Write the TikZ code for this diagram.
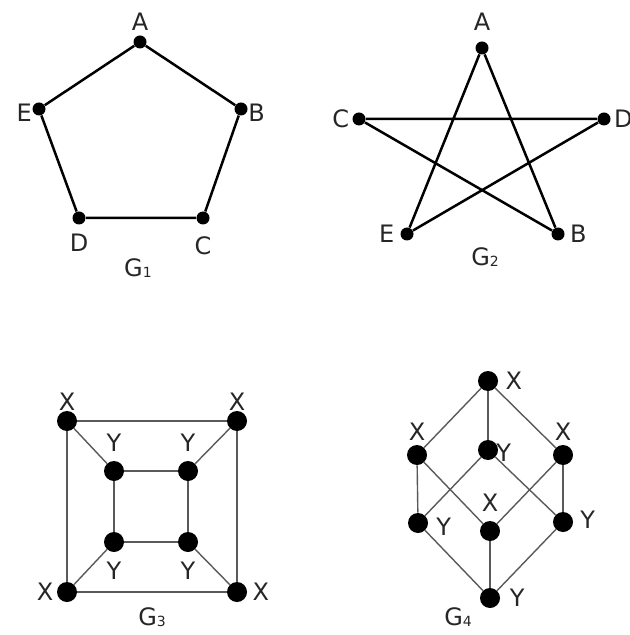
\documentclass[tikz,border=0pt]{standalone}
\usepackage{fontspec}
\setmainfont{DejaVu Sans}
\newcommand\gsub[1]{\raisebox{-0.4pt}{\fontsize{7}{8}\selectfont #1}}

\begin{document}
\begin{tikzpicture}[
      x=0.5pt, y=-0.5pt,
      every label/.style={
        font=\fontsize{12}{14}\selectfont,
        inner sep=0pt,
        text=black!85
      },
      vtx/.style={
        circle,
        fill=black,
        inner sep=0pt,
        minimum size=6.5pt,
        label distance=2.5pt
      },
      bigvtx/.style={
        circle,
        fill=black,
        inner sep=0pt,
        minimum size=10pt,
        label distance=2.5pt
      },
      thickedge/.style={
        line width=1.25pt,
        black
      },
      thinedge/.style={
        line width=0.7pt,
        black!65
      },
      gname/.style={
        font=\fontsize{12}{14}\selectfont,
        inner sep=0pt,
        text=black!85
      }
    ]

    \useasboundingbox (0,0) rectangle (629,635);

    % G1
    \node[vtx,label={[label distance=2.3pt]above:A}] (a1) at (140,42) {};
    \node[vtx,label={[yshift=-2pt]right:B}] (b1) at (241,109) {};
    \node[vtx,label={[label distance=5.8pt]below:C}] (c1) at (203,218) {};
    \node[vtx,label={[label distance=4.3pt]below:D}] (d1) at (79,218) {};
    \node[vtx,label={[yshift=-2pt]left:E}] (e1) at (39,109) {};
    \node[gname] (g1) at (138,268) {G\gsub{1}};

    \draw[thickedge] (a1) -- (b1) -- (c1) -- (d1) -- (e1) -- (a1);

    % G2
    \node[vtx,label={[label distance=5pt]above:A}] (a2) at (482,48) {};
    \node[vtx,label={[label distance=2.4pt]right:B}] (b2) at (558,234) {};
    \node[vtx,label={[label distance=1.3pt]left:C}] (c2) at (359,119) {};
    \node[vtx,label={[label distance=1.4pt]right:D}] (d2) at (604,119) {};
    \node[vtx,label={[label distance=2.7pt]left:E}] (e2) at (407,234) {};
    \node[gname] (g2) at (485,257) {G\gsub{2}};

    \draw[thickedge] (a2) -- (e2) -- (d2) -- (c2) -- (b2) -- (a2);

    % G3
    \node[bigvtx,label=above:X] (ox1) at (67,421) {};
    \node[bigvtx,label=above:X] (ox2) at (237,421) {};
    \node[bigvtx,label={[label distance=1.4pt]left:X}] (ox3) at (67,592) {};
    \node[bigvtx,label={[label distance=2.4pt]right:X}] (ox4) at (237,592) {};
    \node[bigvtx,label={[label distance=4.6pt]above:Y}] (iy1) at (114,471) {};
    \node[bigvtx,label={[label distance=4.6pt]above:Y}] (iy2) at (188,471) {};
    \node[bigvtx,label={[label distance=4.6pt]below:Y}] (iy3) at (114,542) {};
    \node[bigvtx,label={[label distance=4.6pt]below:Y}] (iy4) at (188,542) {};
    \node[gname] (g3) at (152,617) {G\gsub{3}};

    \draw[thinedge] (ox1) -- (ox2) -- (ox4) -- (ox3) -- (ox1);
    \draw[thinedge] (iy1) -- (iy2) -- (iy4) -- (iy3) -- (iy1);
    \draw[thinedge] (ox1) -- (iy1);
    \draw[thinedge] (ox2) -- (iy2);
    \draw[thinedge] (ox3) -- (iy3);
    \draw[thinedge] (ox4) -- (iy4);

    % G4
    \node[bigvtx,label={[label distance=3.4pt]right:X}] (top) at (488,381) {};
    \node[bigvtx,label={[label distance=2.1pt]above:X}] (ml) at (417,455) {};
    \node[bigvtx,label={[label distance=-1.2pt,yshift=-1.5pt]right:Y}] (mc) at (488,450) {};
    \node[bigvtx,label={[label distance=2.1pt]above:X}] (mr) at (563,455) {};
    \node[bigvtx,label={[label distance=3.8pt,yshift=-2pt]right:Y}] (rl) at (418,523) {};
    \node[bigvtx,label={[label distance=4.6pt]above:X}] (rc) at (490,531) {};
    \node[bigvtx,label={[label distance=3.3pt,yshift=1pt]right:Y}] (rr) at (563,522) {};
    \node[bigvtx,label={[label distance=4.5pt]right:Y}] (bot) at (490,598) {};
    \node[gname] (g4) at (458,617) {G\gsub{4}};

    \draw[thinedge] (top) -- (ml);
    \draw[thinedge] (top) -- (mc);
    \draw[thinedge] (top) -- (mr);
    \draw[thinedge] (ml) -- (rl);
    \draw[thinedge] (ml) -- (rc);
    \draw[thinedge] (mc) -- (rl);
    \draw[thinedge] (mc) -- (rr);
    \draw[thinedge] (mr) -- (rc);
    \draw[thinedge] (mr) -- (rr);
    \draw[thinedge] (rl) -- (bot);
    \draw[thinedge] (rc) -- (bot);
    \draw[thinedge] (rr) -- (bot);

  \end{tikzpicture}
\end{document}
